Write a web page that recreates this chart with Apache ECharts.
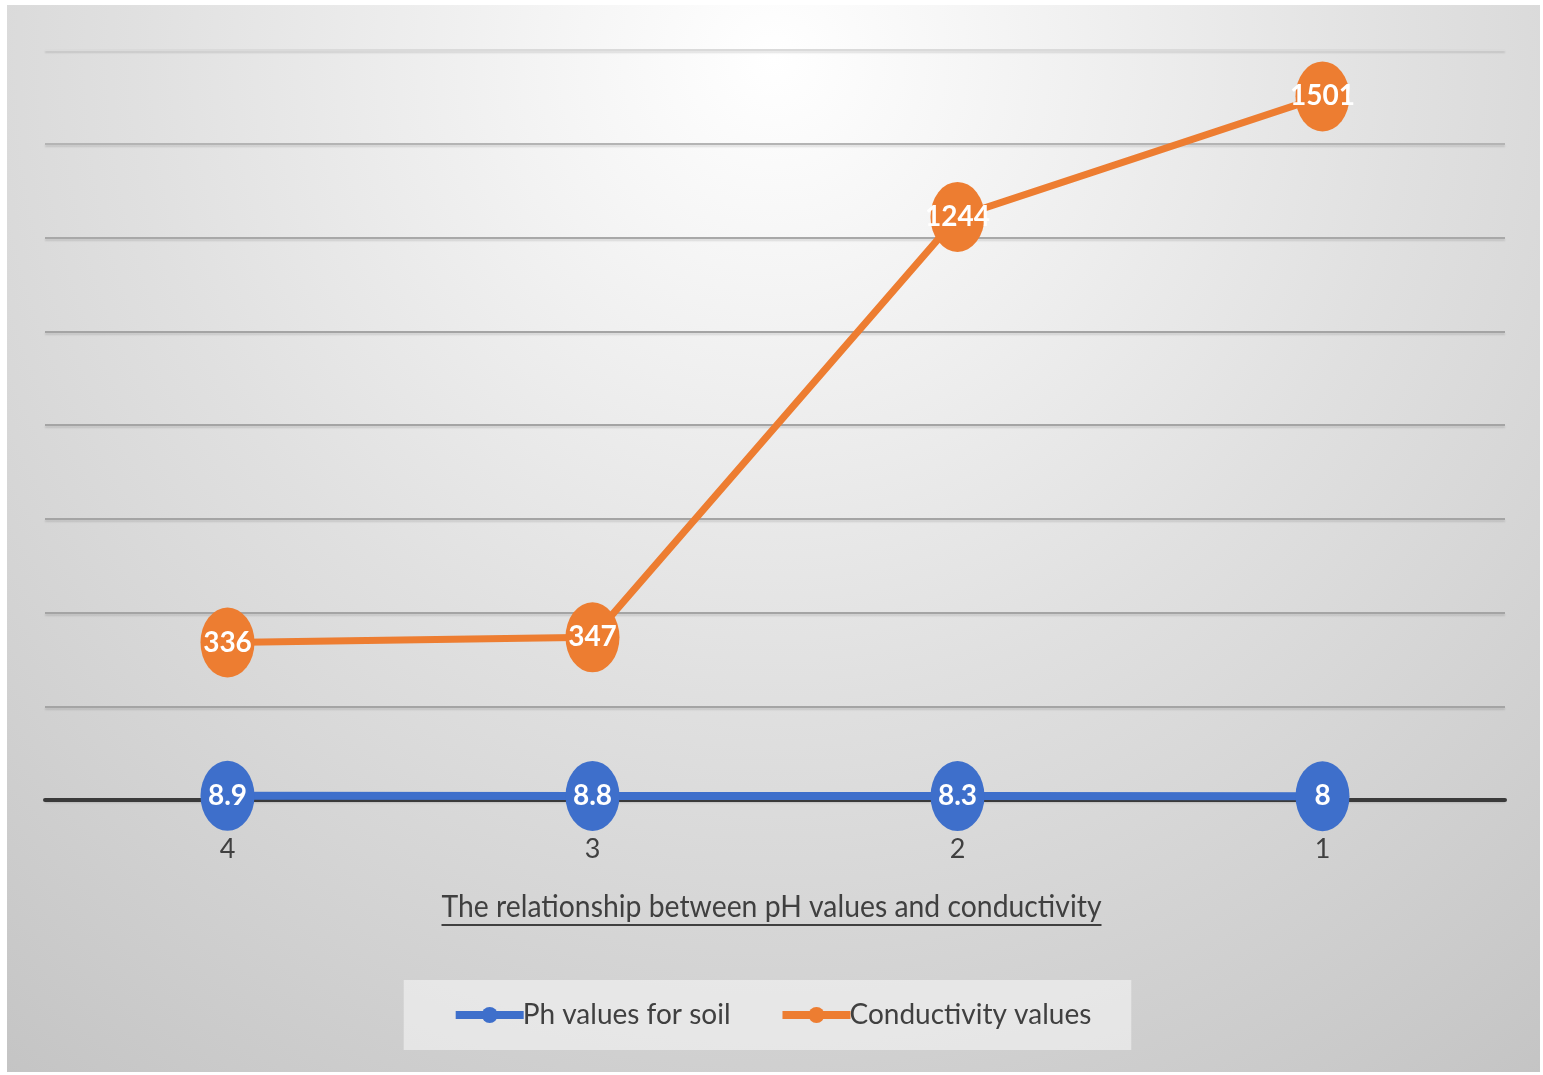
<!DOCTYPE html>
<html>
<head>
<meta charset="utf-8">
<script src="https://cdn.jsdelivr.net/npm/echarts@6/dist/echarts.min.js"></script>
<style>
html,body{margin:0;padding:0;background:#fff;}
#chart{width:1543px;height:1075px;}
</style>
</head>
<body>
<div id="chart"></div>
<script>
const categories = ['4', '3', '2', '1'];
const phValues = [8.9, 8.8, 8.3, 8];
const conductivityValues = [336, 347, 1244, 1501];
const seriesNames = ['Ph values for soil', 'Conductivity values'];
const titleText = 'The relationship between pH values and conductivity';

const FONT = "Lato, 'Liberation Sans', sans-serif";
const W = 1543, H = 1075;

// measure title width for underline and condensed look
const cv = document.createElement('canvas').getContext('2d');
const titleSize = 31;
cv.font = titleSize + 'px ' + FONT;
const tw = cv.measureText(titleText).width;
const targetW = 660;
const sx = targetW / tw;

const chart = echarts.init(document.getElementById('chart'), null, {renderer: 'canvas'});

const labelStyle = {
  show: true, position: 'inside', color: '#ffffff', fontWeight: 'bold',
  fontSize: 28, fontFamily: FONT
};

chart.setOption({
  backgroundColor: '#ffffff',
  animation: false,
  graphic: [
    {
      type: 'rect', z: -100, silent: true,
      shape: {x: 7, y: 5, width: W - 10, height: H - 8},
      style: {
        fill: {
          type: 'radial', x: 0.5, y: 0.05, r: 1.2,
          colorStops: [
            {offset: 0, color: '#ffffff'},
            {offset: 0.15, color: '#f6f6f6'},
            {offset: 0.5, color: '#e0e0e0'},
            {offset: 1, color: '#c4c4c4'}
          ]
        }
      }
    },
    {
      type: 'group', x: (W - targetW) / 2 + 0, y: 891, scaleX: sx,
      children: [
        {type: 'text', x: 0, y: 0, style: {text: titleText, fontSize: titleSize, fontFamily: FONT, fill: '#404040'}},
        {type: 'line', shape: {x1: 0, y1: titleSize + 3, x2: tw, y2: titleSize + 3}, style: {stroke: '#404040', lineWidth: 2}}
      ]
    }
  ],
  grid: {left: 45, right: 38, top: 50, bottom: 275, containLabel: false},
  legend: {
    data: seriesNames,
    left: 'center', top: 980,
    backgroundColor: 'rgba(245,245,245,0.6)',
    padding: [21, 40, 21, 48],
    itemWidth: 68, itemHeight: 20, itemGap: 48,
    lineStyle: {width: 8},
    textStyle: {fontSize: 28, fontFamily: FONT, color: '#404040', padding: [0, 0, 0, -6]}
  },
  xAxis: {
    type: 'category', data: categories, boundaryGap: true,
    axisLine: {show: true, lineStyle: {color: '#3a3a3a', width: 4}},
    axisTick: {show: false},
    axisLabel: {fontSize: 27, fontFamily: FONT, color: '#404040', margin: 36}
  },
  yAxis: {
    type: 'value', min: 0, max: 1600, interval: 200,
    axisLine: {show: false}, axisTick: {show: false}, axisLabel: {show: false},
    splitLine: {lineStyle: {color: ['#3a3a3a','#a4a4a4','#a4a4a4','#a4a4a4','#a4a4a4','#a4a4a4','#a8a8a8','#b4b4b4','#dadada'], width: 2,
      shadowColor: 'rgba(0,0,0,0.12)', shadowBlur: 2, shadowOffsetY: 2}}
  },
  series: [
    {
      name: seriesNames[0], type: 'line', data: phValues,
      symbol: 'circle', symbolSize: [54, 70],
      lineStyle: {color: '#3E6FCB', width: 8},
      itemStyle: {color: '#3E6FCB'},
      label: labelStyle, z: 3
    },
    {
      name: seriesNames[1], type: 'line', data: conductivityValues,
      symbol: 'circle', symbolSize: [54, 70],
      lineStyle: {color: '#ED7D31', width: 7},
      itemStyle: {color: '#ED7D31'},
      label: labelStyle, z: 4
    }
  ]
});
</script>
</body>
</html>
